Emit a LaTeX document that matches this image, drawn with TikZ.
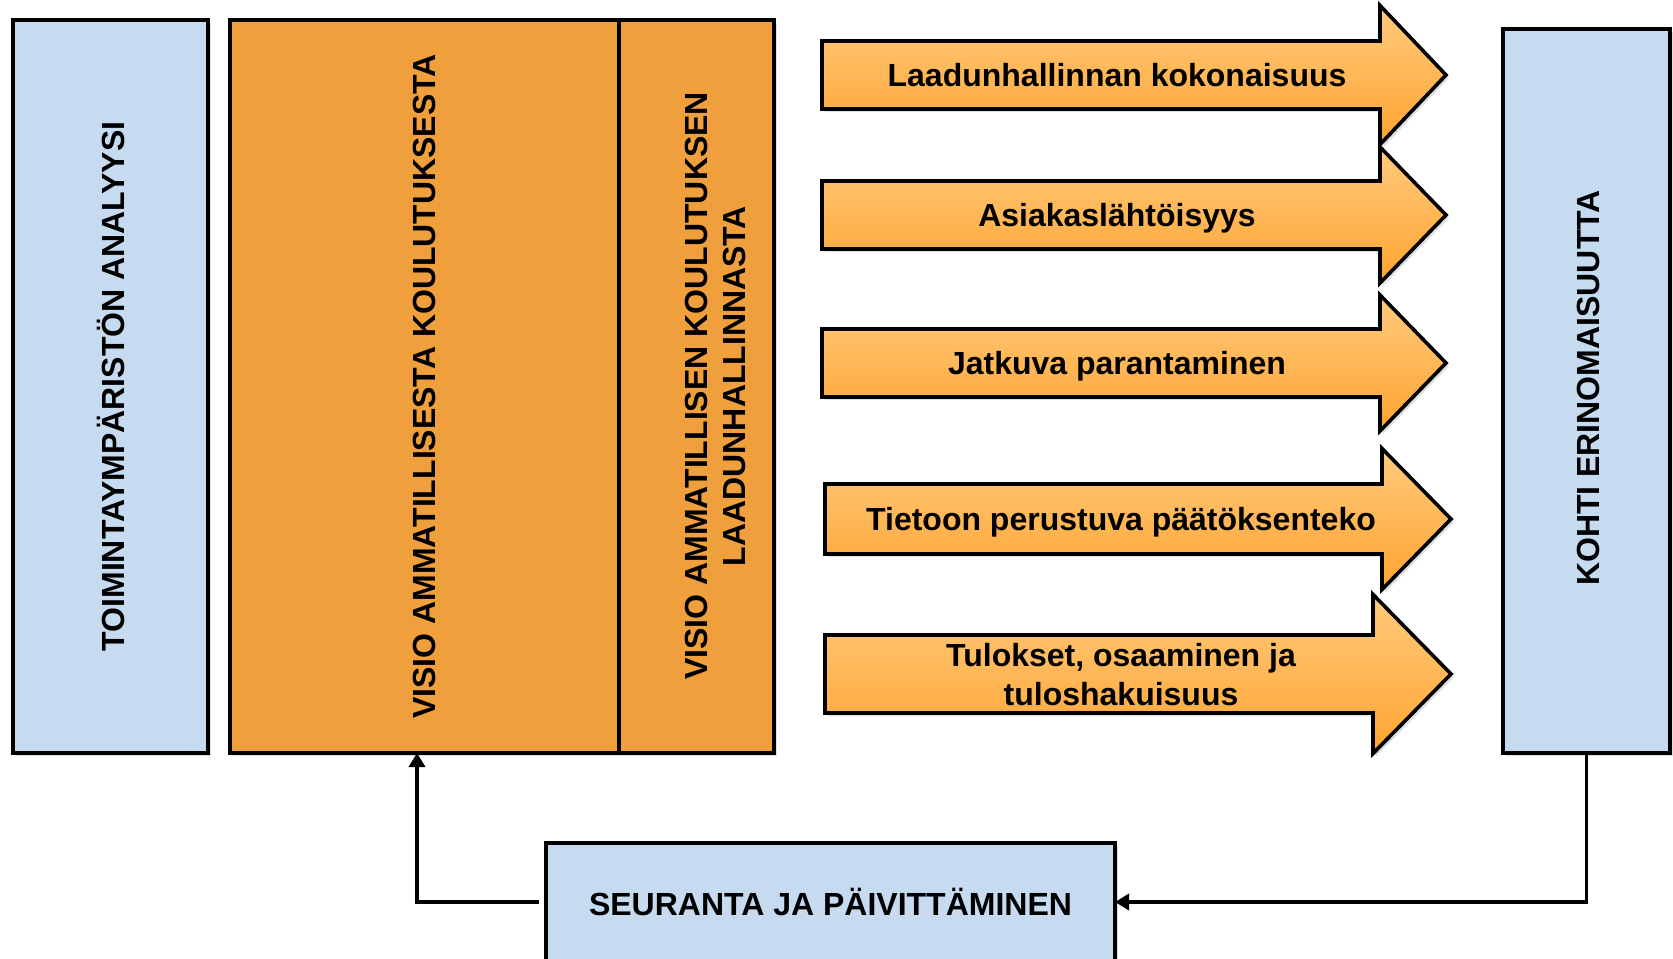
\documentclass[tikz,border=0pt]{standalone}
\usepackage{fontspec}
\setmainfont{Liberation Sans}
\usepackage{xcolor}
\usetikzlibrary{arrows.meta,shadows}
\definecolor{boxblue}{RGB}{198,219,240}
\definecolor{visorange}{RGB}{239,160,61}
\definecolor{arrowtop}{RGB}{255,202,125}
\definecolor{arrowbot}{RGB}{255,164,48}

\begin{document}
\begin{tikzpicture}[x=0.5pt,y=0.5pt]
  \tikzset{softshadow/.style = {drop shadow={shadow xshift=1.5pt,shadow yshift=-1.5pt,opacity=0.25}}}
  \tikzset{bluebox/.style = {shape=rectangle,draw,line width=1.8pt,fill=boxblue,inner sep=0pt,outer sep=0pt,softshadow}}
  \tikzset{orangebox/.style = {shape=rectangle,draw,line width=1.8pt,fill=visorange,inner sep=0pt,outer sep=0pt,softshadow}}
  \tikzset{vlabel/.style = {rotate=90,align=center,font=\bfseries\fontsize{16}{19}\selectfont}}
  \tikzset{qarrow/.style = {draw,line width=1.8pt,top color=arrowtop,bottom color=arrowbot,softshadow}}
  \tikzset{alabel/.style = {align=center,text depth=0pt,font=\bfseries\fontsize{16}{19.5}\selectfont}}
  \tikzset{flow/.style = {line width=1.8pt,-{Triangle[length=7pt,width=8pt]}}}

  \useasboundingbox (0,0) rectangle (1673,958);

	\node[bluebox,minimum width=97.5pt,minimum height=366.5pt] (env) at (110.5,571.5) {};
	\node[vlabel] (envtxt) at (env) {TOIMINTAYMPÄRISTÖN ANALYYSI};

	\node[orangebox,minimum width=194.5pt,minimum height=366.5pt] (vis1) at (424.5,571.5) {};
	\node[orangebox,minimum width=77.5pt,minimum height=366.5pt,anchor=west] (vis2) at (vis1.east) {};
	\node[vlabel] (vis1txt) at (vis1) {VISIO AMMATILLISESTA KOULUTUKSESTA};
	\node[vlabel] (vis2txt) at (715,572) {VISIO AMMATILLISEN KOULUTUKSEN\\LAADUNHALLINNASTA};

	\node[bluebox,minimum width=83.5pt,minimum height=362pt] (goal) at (1586.5,567) {};
	\node[vlabel] (goaltxt) at (1588,570) {KOHTI ERINOMAISUUTTA};

	\node[bluebox,minimum width=284.5pt,minimum height=59pt] (follow) at (830.5,56) {};
	\node[font=\bfseries\fontsize{16}{19}\selectfont] (followtxt) at (follow) {SEURANTA JA PÄIVITTÄMINEN};

    % block arrows: name/centre/body/head/left/notch/tip/text
    \foreach \name/\cy/\h/\H/\xl/\xn/\xt/\txt in {
      a1/883/34/69.5/822/1380/1446/{Laadunhallinnan kokonaisuus},
      a2/743/34/68/822/1380/1446/{Asiakaslähtöisyys},
      a3/595/34/68/822/1380/1446/{Jatkuva parantaminen},
      a4/439/35/70.5/825/1382/1451/{Tietoon perustuva päätöksenteko},
      a5/284/39/79.5/825/1373/1451/{Tulokset, osaaminen ja\\tuloshakuisuus}}
    {
    \path[qarrow] (\xl,\cy+\h) -- (\xn,\cy+\h) -- (\xn,\cy+\H) -- (\xt,\cy)
      -- (\xn,\cy-\H) -- (\xn,\cy-\h) -- (\xl,\cy-\h) -- cycle;
    \node[alabel] (\name) at ({(\xl+\xt)/2-17},\cy) {\txt};
    }

	\coordinate (fb) at (417,205);
    \draw[flow] (goal.south) |- (follow.east);
    \draw[flow] ([xshift=-3.5pt]follow.west) -| (vis1.south -| fb);

\end{tikzpicture}
\end{document}
